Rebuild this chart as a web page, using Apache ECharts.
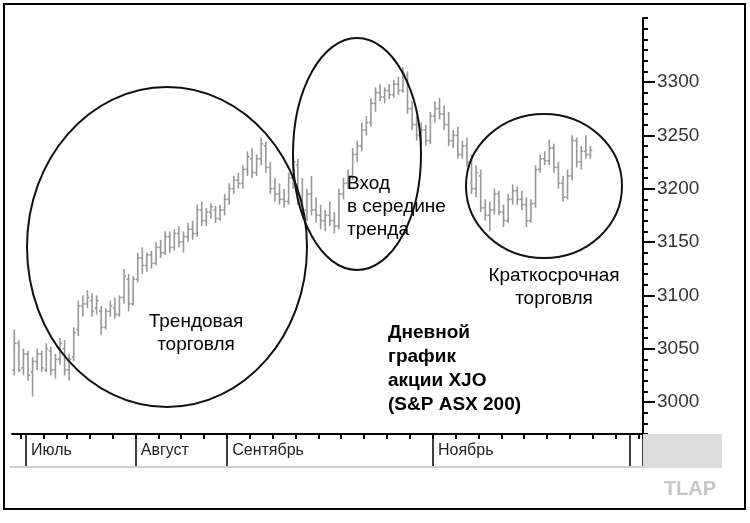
<!DOCTYPE html>
<html>
<head>
<meta charset="utf-8">
<script src="https://cdn.jsdelivr.net/npm/echarts@6/dist/echarts.min.js"></script>
<style>
  html, body { margin: 0; padding: 0; background: #fff; }
  #chart { width: 750px; height: 523px; }
</style>
</head>
<body>
<div id="chart"></div>
<script>
// дневные бары XJO: открытие / максимум / минимум / закрытие
const opens = [3030,3055,3032,3045,3028,3038,3045,3030,3048,3030,3040,3050,3030,3042,3068,3090,3092,3095,3088,3085,
  3070,3085,3088,3082,3098,3115,3092,3115,3135,3128,3138,3130,3145,3140,3155,3145,3158,3150,3155,3162,
  3158,3180,3170,3178,3180,3172,3180,3190,3200,3208,3205,3218,3228,3215,3228,3240,3220,3200,3195,3190,
  3188,3210,3222,3190,3180,3195,3180,3175,3170,3175,3170,3165,3195,3205,3212,3232,3240,3255,3262,3280,
  3290,3286,3292,3288,3298,3292,3306,3275,3260,3250,3255,3245,3268,3275,3270,3260,3245,3250,3232,3240,
  3225,3200,3212,3182,3175,3180,3195,3178,3170,3190,3198,3190,3185,3170,3186,3218,3228,3226,3238,3220,
  3205,3192,3212,3245,3225,3235,3232];
const highs = [3068,3058,3050,3048,3042,3050,3048,3055,3052,3045,3060,3058,3045,3070,3095,3100,3105,3102,3100,3090,
  3088,3095,3098,3100,3125,3120,3118,3140,3145,3140,3142,3150,3152,3160,3160,3162,3165,3160,3168,3170,
  3185,3188,3182,3186,3184,3185,3195,3205,3212,3215,3222,3235,3238,3232,3248,3244,3225,3210,3205,3200,
  3215,3232,3228,3210,3200,3212,3192,3185,3180,3188,3178,3200,3210,3218,3238,3245,3262,3268,3285,3295,
  3298,3295,3298,3302,3305,3314,3310,3282,3268,3262,3260,3272,3282,3285,3278,3272,3255,3258,3245,3248,
  3232,3222,3218,3190,3188,3200,3198,3185,3195,3204,3202,3198,3192,3190,3222,3232,3235,3246,3242,3225,
  3212,3218,3250,3248,3240,3250,3240];
const lows = [3025,3028,3025,3020,3005,3030,3028,3028,3025,3022,3035,3025,3020,3038,3062,3080,3088,3080,3082,3063,
  3068,3080,3078,3080,3092,3085,3090,3112,3120,3122,3125,3128,3135,3138,3140,3142,3145,3140,3150,3152,
  3155,3165,3165,3172,3168,3170,3175,3185,3195,3200,3200,3212,3210,3212,3222,3215,3195,3188,3185,3182,
  3185,3200,3185,3175,3170,3175,3168,3162,3160,3165,3158,3162,3190,3200,3208,3225,3235,3250,3258,3272,
  3282,3280,3284,3285,3288,3290,3270,3255,3245,3240,3240,3242,3262,3265,3255,3240,3238,3228,3228,3220,
  3195,3192,3178,3170,3160,3176,3175,3164,3168,3185,3185,3180,3164,3168,3182,3215,3222,3222,3215,3200,
  3188,3190,3208,3220,3218,3228,3228];
const closes = [3055,3030,3045,3025,3038,3045,3032,3050,3030,3040,3055,3030,3040,3065,3090,3092,3098,3085,3095,3070,
  3085,3090,3082,3098,3118,3092,3115,3135,3128,3138,3130,3145,3140,3155,3145,3158,3150,3155,3162,3158,
  3180,3170,3178,3183,3172,3180,3190,3200,3208,3205,3218,3230,3215,3228,3242,3220,3200,3195,3190,3188,
  3210,3225,3190,3180,3195,3180,3175,3170,3175,3170,3165,3195,3205,3212,3232,3240,3255,3262,3280,3290,
  3286,3292,3288,3298,3292,3308,3275,3260,3250,3255,3245,3268,3275,3270,3260,3245,3250,3232,3240,3225,
  3200,3215,3182,3175,3180,3195,3178,3170,3190,3198,3190,3185,3170,3186,3218,3228,3226,3238,3220,3205,
  3192,3212,3245,3225,3235,3232,3236];

const slotCount = 138;               // торговые дни на оси, включая пустой хвост
const monthStarts = [3, 27, 47, 92, 135];
const monthNames = ['Июль', 'Август', 'Сентябрь', 'Ноябрь', ''];
const weekTickStart = 2;
const yTicks = [3000, 3050, 3100, 3150, 3200, 3250, 3300];

const days = [];
for (let i = 0; i < slotCount; i++) days.push(String(i));
const bars = opens.map((o, i) => [i, o, highs[i], lows[i], closes[i]]);

const chart = echarts.init(document.getElementById('chart'));

const barColor = '#989898';
const font = '"Liberation Sans", Arial, sans-serif';

chart.setOption({
  animation: false,
  backgroundColor: '#fff',
  grid: [
    { left: 12, right: 107, top: 18, bottom: 89 },   // основная область
    { left: 12, right: 107, top: 82, bottom: 121 },  // 3300..3000 для крупных делений
    { left: 12, right: 107, top: 434, height: 33 }   // полоса с месяцами
  ],
  xAxis: [
    {
      gridIndex: 0, type: 'category', data: days, position: 'bottom',
      axisLine: { show: true, lineStyle: { color: '#000', width: 2 } },
      axisTick: { show: true, length: 5, lineStyle: { color: '#000', width: 2 },
        interval: (i) => (i - weekTickStart) % 5 === 0 },
      axisLabel: { show: false }, splitLine: { show: false }
    },
    { gridIndex: 1, type: 'category', data: days, show: false },
    {
      gridIndex: 2, type: 'category', data: days, position: 'bottom',
      axisLine: { show: false },
      axisTick: { show: true, inside: true, length: 33, lineStyle: { color: '#000', width: 1.5 },
        interval: (i) => monthStarts.indexOf(i) >= 0 },
      axisLabel: {
        inside: true, align: 'left', verticalAlign: 'middle', margin: 16,
        padding: [0, 0, 0, 3],
        fontFamily: font, fontSize: 16, color: '#222',
        interval: (i) => monthStarts.indexOf(i) >= 0,
        formatter: (v, i) => monthNames[monthStarts.indexOf(i)] || ''
      },
      splitLine: { show: false }
    }
  ],
  yAxis: [
    {
      gridIndex: 0, type: 'value', position: 'right', min: 2970, max: 3360, interval: 10,
      axisLine: { show: true, lineStyle: { color: '#000', width: 2 } },
      axisTick: { show: true, length: 5, lineStyle: { color: '#000', width: 2 } },
      axisLabel: { show: false }, splitLine: { show: false }
    },
    {
      gridIndex: 1, type: 'value', position: 'right', min: yTicks[0], max: yTicks[yTicks.length - 1], interval: 50,
      axisLine: { show: false },
      axisTick: { show: true, length: 12, lineStyle: { color: '#000', width: 2 } },
      axisLabel: { margin: 14, fontFamily: font, fontSize: 19, color: '#333', formatter: (v) => String(v) },
      splitLine: { show: false }
    },
    { gridIndex: 2, type: 'value', show: false }
  ],
  series: [{
    type: 'custom',
    xAxisIndex: 0, yAxisIndex: 0,
    data: bars,
    renderItem: (params, api) => {
      const i = api.value(0);
      const o = api.coord([i, api.value(1)]);
      const h = api.coord([i, api.value(2)]);
      const l = api.coord([i, api.value(3)]);
      const c = api.coord([i, api.value(4)]);
      const st = { stroke: barColor, lineWidth: 1.6 };
      return {
        type: 'group',
        children: [
          { type: 'line', shape: { x1: h[0], y1: h[1], x2: l[0], y2: l[1] }, style: st },
          { type: 'line', shape: { x1: o[0] - 2, y1: o[1], x2: o[0], y2: o[1] }, style: st },
          { type: 'line', shape: { x1: c[0], y1: c[1], x2: c[0] + 2, y2: c[1] }, style: st }
        ]
      };
    }
  }],
  graphic: [
    // рамка, полоса под осью, логотип
    { type: 'rect', z: 100, shape: { x: 643, y: 434, width: 79, height: 34 }, style: { fill: '#dcdcdc' } },
    { type: 'line', z: 100, shape: { x1: 10, y1: 467, x2: 643, y2: 467 }, style: { stroke: '#cfcfcf', lineWidth: 2 } },
    { type: 'text', z: 100, x: 690, y: 489, style: { text: 'TLAP', fill: '#c6c6c6', font: 'bold 20px ' + font, align: 'center', verticalAlign: 'middle' } },
    { type: 'rect', z: 100, shape: { x: 4, y: 4, width: 741, height: 505 }, style: { fill: 'none', stroke: '#000', lineWidth: 2 } },
    // овалы
    { type: 'ellipse', z: 100, shape: { cx: 167, cy: 247, rx: 140, ry: 160 }, style: { fill: 'none', stroke: '#111', lineWidth: 2 } },
    { type: 'ellipse', z: 100, shape: { cx: 357, cy: 154, rx: 64, ry: 116 }, style: { fill: 'none', stroke: '#111', lineWidth: 2 } },
    { type: 'ellipse', z: 100, shape: { cx: 544, cy: 186, rx: 78, ry: 72 }, style: { fill: 'none', stroke: '#111', lineWidth: 2 } },
    // подписи
    { type: 'text', z: 100, x: 196, y: 333, style: { text: 'Трендовая\nторговля', fill: '#000', font: '19px ' + font, align: 'center', verticalAlign: 'middle', lineHeight: 23 } },
    { type: 'text', z: 100, x: 347, y: 207, style: { text: 'Вход\nв середине\nтренда', fill: '#000', font: '19px ' + font, align: 'left', verticalAlign: 'middle', lineHeight: 23 } },
    { type: 'text', z: 100, x: 554, y: 287, style: { text: 'Краткосрочная\nторговля', fill: '#000', font: '19px ' + font, align: 'center', verticalAlign: 'middle', lineHeight: 23 } },
    { type: 'text', z: 100, x: 388, y: 369, style: { text: 'Дневной\nграфик\nакции XJO\n(S&P ASX 200)', fill: '#000', font: 'bold 19px ' + font, align: 'left', verticalAlign: 'middle', lineHeight: 24 } }
  ]
});
</script>
</body>
</html>
